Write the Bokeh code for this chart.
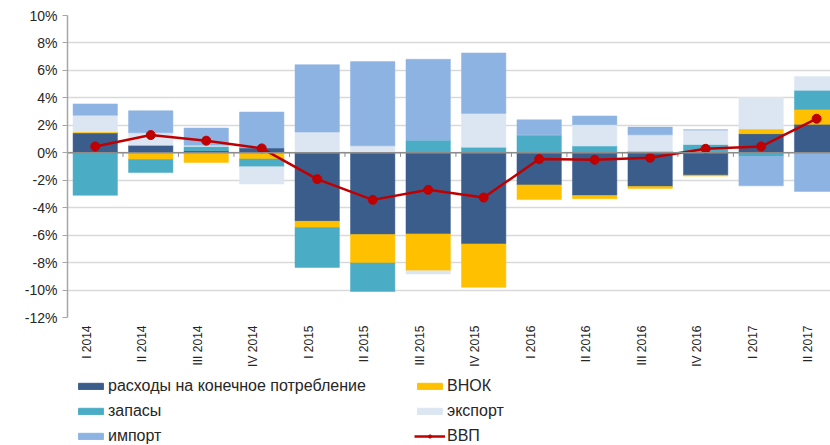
import numpy as np
from bokeh.plotting import figure
from bokeh.layouts import column
from bokeh.models import (Range1d, FixedTicker, PrintfTickFormatter, Span, Legend, LegendItem)
from bokeh.embed import file_html
from bokeh.resources import INLINE

categories = ["I 2014", "II 2014", "III 2014", "IV 2014",
              "I 2015", "II 2015", "III 2015", "IV 2015",
              "I 2016", "II 2016", "III 2016", "IV 2016",
              "I 2017", "II 2017"]

consumption = [1.44, 0.54, 0.15, 0.34, -4.99, -5.96, -5.91, -6.64, -2.34, -3.11, -2.46, -1.63, 1.39, 2.07]
investment  = [0.07, -0.49, -0.70, -0.46, -0.46, -2.07, -2.68, -3.16, -1.07, -0.24, -0.15, -0.07, 0.34, 1.09]
inventories = [-3.10, -0.95, 0.30, -0.56, -2.90, -2.07, 0.92, 0.41, 1.31, 0.49, 0.12, 0.60, -0.27, 1.39]
exports     = [1.22, 0.92, 0.10, -1.26, 1.51, 0.51, -0.24, 2.46, 0.00, 1.56, 1.19, 1.07, 2.29, 1.00]
imports     = [0.83, 1.60, 1.25, 2.63, 4.91, 6.13, 5.89, 4.40, 1.09, 0.63, 0.56, 0.00, -2.14, -2.82]
gdp         = [0.46, 1.29, 0.88, 0.32, -1.92, -3.43, -2.70, -3.26, -0.46, -0.51, -0.36, 0.29, 0.46, 2.48]

series_names = ["расходы на конечное потребление", "ВНОК", "запасы", "экспорт", "импорт"]
series_vals = [consumption, investment, inventories, exports, imports]
series_colors = ["#3A5D8C", "#FFC000", "#4BACC6", "#DCE6F2", "#8DB3E2"]
gdp_name = "ВВП"
gdp_color = "#C00000"

x = np.arange(len(categories))

p = figure(width=830, height=376, output_backend="svg", toolbar_location=None,
           x_range=Range1d(-0.5, 13.25), y_range=Range1d(-12, 10),
           min_border_left=67, min_border_right=0, min_border_top=15, min_border_bottom=59,
           outline_line_color=None, background_fill_color="white", border_fill_color="white")

pos = np.zeros(len(x))
neg = np.zeros(len(x))
for name, vals, col in zip(series_names, series_vals, series_colors):
    v = np.array(vals, dtype=float)
    bottom = np.where(v >= 0, pos, neg)
    top = bottom + v
    pos = np.where(v >= 0, top, pos)
    neg = np.where(v < 0, top, neg)
    p.vbar(x=x, bottom=bottom, top=top, width=0.8, fill_color=col, line_color=col, line_width=0.5)

zero = Span(location=0, dimension="width", line_color="#8C8C8C", line_width=1.5, level="glyph")
p.add_layout(zero)
p.segment(x0=x[:-1] + 0.5, y0=np.zeros(len(x) - 1), x1=x[:-1] + 0.5, y1=np.full(len(x) - 1, -0.3),
          line_color="#8C8C8C", line_width=1)

p.line(x, gdp, line_color=gdp_color, line_width=2.5)
p.scatter(x, gdp, size=9, fill_color=gdp_color, line_color=gdp_color)

# axes
p.yaxis.ticker = FixedTicker(ticks=list(range(-12, 11, 2)))
p.yaxis.formatter = PrintfTickFormatter(format="%d%%")
p.yaxis.axis_line_color = "#A6A6A6"
p.yaxis.axis_line_width = 1.5
p.yaxis.major_tick_line_color = "#A6A6A6"
p.yaxis.major_tick_out = 5
p.yaxis.major_tick_in = 0
p.yaxis.minor_tick_line_color = None
p.yaxis.major_label_text_font = "Liberation Sans"
p.yaxis.major_label_text_font_size = "14px"
p.yaxis.major_label_text_color = "#262626"
p.yaxis.major_label_standoff = 5

label_pos = [round(float(i) - 0.15, 2) for i in x]
p.xaxis.ticker = FixedTicker(ticks=label_pos)
p.xaxis.major_label_overrides = {lp: c for lp, c in zip(label_pos, categories)}
p.xaxis.major_label_orientation = np.pi / 2
p.xaxis.axis_line_color = None
p.xaxis.major_tick_line_color = None
p.xaxis.major_tick_out = 0
p.xaxis.major_tick_in = 0
p.xaxis.minor_tick_line_color = None
p.xaxis.minor_tick_out = 0
p.xaxis.major_label_text_font = "Liberation Sans"
p.xaxis.major_label_text_font_size = "12px"
p.xaxis.major_label_text_color = "#262626"
p.xaxis.major_label_standoff = 8

p.xgrid.grid_line_color = None
p.ygrid.grid_line_color = "#D9D9D9"
p.ygrid.grid_line_width = 1.5

# legend strip: separate figure whose proxy glyphs lie outside its visible range
lf = figure(width=830, height=69, output_backend="svg", toolbar_location=None,
            x_range=Range1d(100, 101), y_range=Range1d(100, 101),
            x_axis_location=None, y_axis_location=None, min_border=0,
            outline_line_color=None, background_fill_color="white", border_fill_color="white")
lf.xgrid.grid_line_color = None
lf.ygrid.grid_line_color = None

proxies = []
for name, vals, col in zip(series_names, series_vals, series_colors):
    proxies.append(lf.vbar(x=x, top=vals, bottom=0, width=0.8, fill_color=col, line_color=col))
pl = lf.line(x=x, y=gdp, line_color=gdp_color, line_width=2.5)
ps = lf.scatter(x=x, y=gdp, size=7, fill_color=gdp_color, line_color=gdp_color)

def make_legend(items, xloc):
    return Legend(items=items, location=(xloc, 0), orientation="vertical",
                  glyph_width=31, glyph_height=8, label_height=19, spacing=6,
                  label_standoff=2, padding=0, margin=0,
                  border_line_color=None, background_fill_alpha=0,
                  label_text_font="Liberation Sans", label_text_font_size="16px",
                  label_text_color="#262626")

leg1 = make_legend([LegendItem(label=series_names[0], renderers=[proxies[0]]),
                    LegendItem(label=series_names[2], renderers=[proxies[2]]),
                    LegendItem(label=series_names[4], renderers=[proxies[4]])], 8)
leg2 = make_legend([LegendItem(label=series_names[1], renderers=[proxies[1]]),
                    LegendItem(label=series_names[3], renderers=[proxies[3]]),
                    LegendItem(label=gdp_name, renderers=[pl, ps])], 347)
lf.add_layout(leg1)
lf.add_layout(leg2)

layout = column(p, lf, spacing=0)
open("out.html", "w").write(file_html(layout, INLINE))
